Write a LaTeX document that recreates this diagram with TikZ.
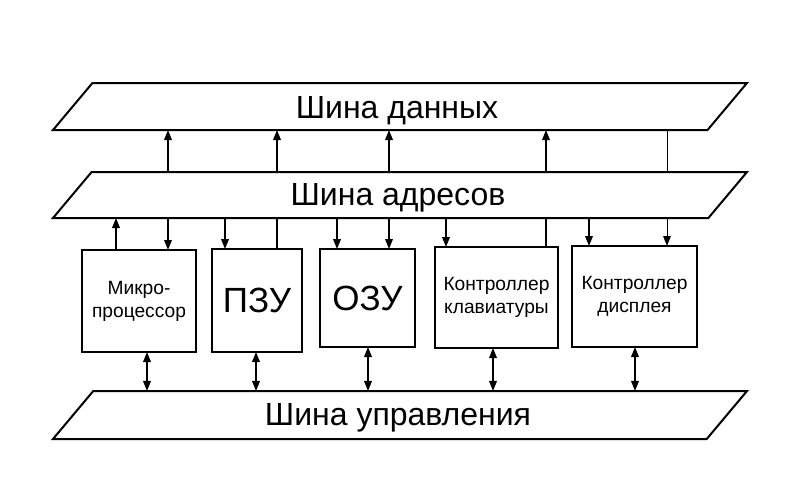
\documentclass[tikz,border=0pt]{standalone}
\usepackage{fontspec}
\setmainfont{Liberation Sans}
\usetikzlibrary{shapes.geometric,arrows.meta}

\begin{document}
\begin{tikzpicture}[
    x=0.5pt, y=-0.5pt,
    line width=0.8pt,
    >={Triangle[length=5pt,width=3.8pt]},
    bus/.style={
        trapezium,
        trapezium left angle=50,
        trapezium right angle=130,
        trapezium stretches body=true,
        draw,
        line width=1pt,
        fill=white,
        minimum width=347pt,
        inner xsep=1pt,
        inner ysep=0pt,
        outer sep=0pt,
        text depth=0pt
    },
    buslabel/.style={
        anchor=base,
        font=\fontsize{16}{19}\selectfont
    },
    block/.style={
        rectangle,
        draw,
        line width=1pt,
        align=center,
        inner sep=0pt,
        outer sep=0pt,
        font=\fontsize{9.6}{11.5}\selectfont
    },
    bigblock/.style={
        block,
        font=\fontsize{17.5}{21}\selectfont
    }
]
\useasboundingbox (0,0) rectangle (789,488);

% Buses
\node[bus, text height=23.5pt] (dbus) at (400,106.5) {};
\node[bus, text height=23pt] (abus) at (400,195) {};
\node[bus, text height=24pt] (cbus) at (400,415) {};

\node[buslabel] (dlabel) at (397,118) {Шина данных};
\node[buslabel] (alabel) at (398,205) {Шина адресов};
\node[buslabel] (clabel) at (398,425) {Шина управления};

% Devices
\node[block, minimum width=57pt, minimum height=51pt] (mp) at (139,301) {Микро-\\процессор};
\node[bigblock, minimum width=45pt, minimum height=51.5pt] (pzu) at (257,300.5) {ПЗУ};
\node[bigblock, minimum width=47.5pt, minimum height=49pt] (ozu) at (367.5,298) {ОЗУ};
\node[block, minimum width=61.5pt, minimum height=50.5pt] (kbd) at (496.5,297.5) {Контроллер\\клавиатуры};
\node[block, minimum width=62.5pt, minimum height=50.5pt] (dsp) at (634.5,296.5) {Контроллер\\дисплея};

% Data bus links
\foreach \x in {168,277,389,546}
    \draw[->] (\x,0 |- abus.north) -- (\x,0 |- dbus.south);
\draw[line width=0.5pt] (667,0 |- dbus.south) -- (667,0 |- abus.north);
\draw[->] (168,0 |- abus.south) -- (168,0 |- mp.north);
\draw[->] (389,0 |- abus.south) -- (389,0 |- ozu.north);
\draw (277,0 |- pzu.north) -- (277,0 |- abus.south);
\draw (546,0 |- kbd.north) -- (546,0 |- abus.south);
\draw[->, line width=0.5pt] (667,0 |- abus.south) -- (667,0 |- dsp.north);

% Address bus links
\draw[->] (116,0 |- mp.north) -- (116,0 |- abus.south);
\foreach \n/\x in {pzu/225, ozu/337, kbd/446, dsp/589}
    \draw[->] (\x,0 |- abus.south) -- (\x,0 |- \n.north);

% Control bus links
\foreach \n/\x in {mp/147, pzu/256, ozu/368, kbd/493, dsp/635}
    \draw[<->] (\x,0 |- \n.south) -- (\x,0 |- cbus.north);

\end{tikzpicture}
\end{document}
